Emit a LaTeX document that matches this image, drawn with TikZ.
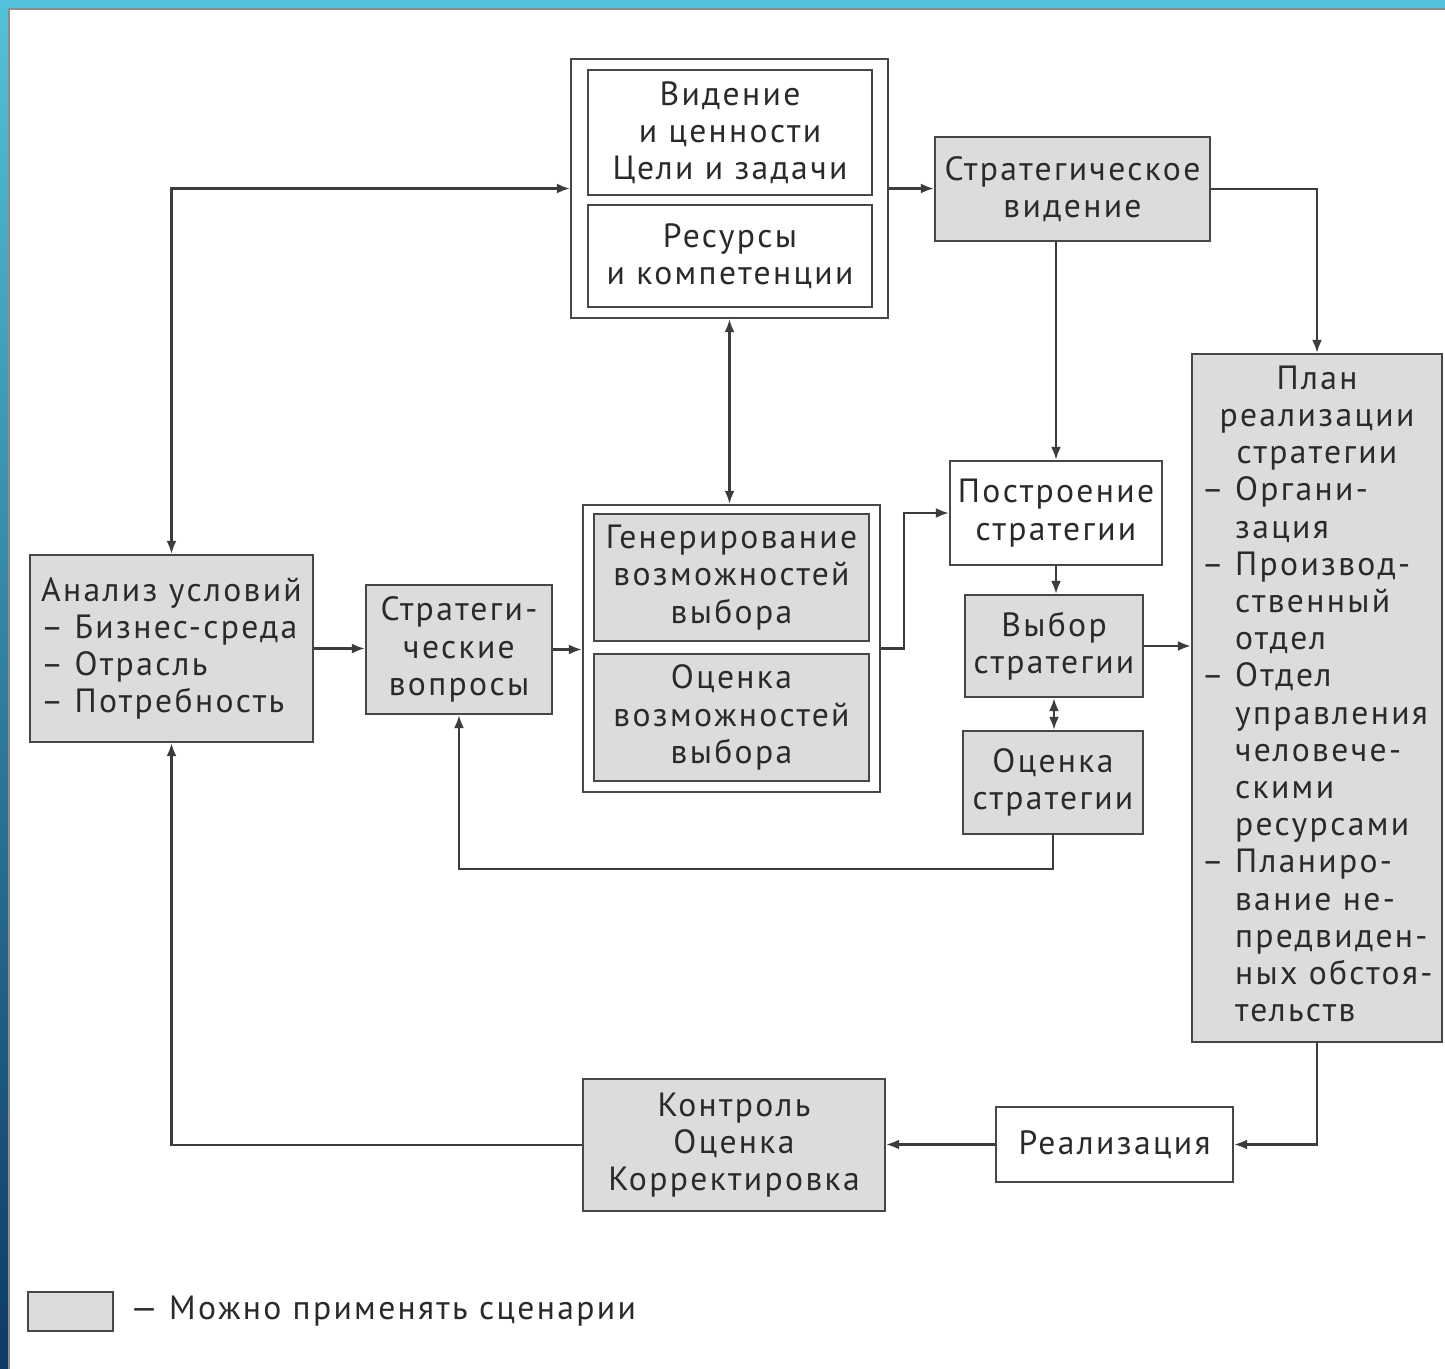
\documentclass[tikz,border=0pt]{standalone}
\usepackage{fontspec}
\setmainfont{PT Sans}[LetterSpace=7]
\usepackage{tikz}
\usetikzlibrary{arrows.meta, positioning, calc}
\definecolor{boxgray}{HTML}{DCDCDC}
\definecolor{edgegray}{HTML}{474747}
\definecolor{linegray}{HTML}{3C3C3C}
\definecolor{inkgray}{HTML}{2A2A2A}
\definecolor{framegray}{HTML}{8C8C8C}
\definecolor{bandcyan}{HTML}{52C2DA}
\definecolor{banddark}{HTML}{0E3A68}
\pgfdeclarelayer{background}
\pgfsetlayers{background,main}

\begin{document}
\begin{tikzpicture}[
    x=0.5pt, y=-0.5pt,
    base/.style={draw=edgegray, line width=1.2pt, inner sep=0pt,
      align=center, text=inkgray,
      font=\fontsize{16.8}{18.6}\selectfont},
    graybox/.style ={base, fill=boxgray},
    whitebox/.style={base, fill=white},
    holder/.style  ={draw=edgegray, line width=1.2pt, fill=white, inner sep=0pt},
    arrow/.style={-{Latex[length=6.5pt, width=5pt]},
      line width=1.1pt, color=linegray},
    biarrow/.style={{Latex[length=6.5pt, width=5pt]}-{Latex[length=6.5pt, width=5pt]},
      line width=1.1pt, color=linegray},
    legendtext/.style={text=inkgray, font=\fontsize{16.8}{18.6}\selectfont,
      inner sep=0pt, anchor=west},
]
\useasboundingbox (0,0) rectangle (1445,1369);
% Nodes
\node[holder, minimum width=317*0.5pt, minimum height=259*0.5pt] (vis) at (729.5,188.5) {};
\node[whitebox, minimum width=284*0.5pt, minimum height=125*0.5pt] (vision) at (730,132.5)
    {Видение\\и ценности\\Цели и задачи};
\node[whitebox, minimum width=284*0.5pt, minimum height=102*0.5pt] (resources) at (730,256)
    {Ресурсы\\и компетенции};
\node[graybox, minimum width=275*0.5pt, minimum height=104*0.5pt] (stratvis) at (1072.5,189)
    {Стратегическое\\видение};
\node[graybox, minimum width=250*0.5pt, minimum height=688*0.5pt] (plan) at (1317,698)
    {\begin{tabular}{@{}l@{}}
     \multicolumn{1}{@{}c@{}}{План}\\
     \multicolumn{1}{@{}c@{}}{реализации}\\
     \multicolumn{1}{@{}c@{}}{стратегии}\\
     – Органи-\\
     \hphantom{– }зация\\
     – Производ-\\
     \hphantom{– }ственный\\
     \hphantom{– }отдел\\
     – Отдел\\
     \hphantom{– }управления\\
     \hphantom{– }человече-\\
     \hphantom{– }скими\\
     \hphantom{– }ресурсами\\
     – Планиро-\\
     \hphantom{– }вание не-\\
     \hphantom{– }предвиден-\\
     \hphantom{– }ных обстоя-\\
     \hphantom{– }тельств
     \end{tabular}};
\node[graybox, align=left, minimum width=283*0.5pt, minimum height=187*0.5pt] (analiz) at (171.5,648.5)
    {Анализ условий\\– Бизнес-среда\\– Отрасль\\– Потребность};
\node[graybox, minimum width=186*0.5pt, minimum height=129*0.5pt] (questions) at (459,649.5)
    {Стратеги-\\ческие\\вопросы};
\node[holder, minimum width=297*0.5pt, minimum height=287*0.5pt] (options) at (731.5,648.5) {};
\node[graybox, minimum width=275*0.5pt, minimum height=127*0.5pt] (generate) at (731.5,577.5)
    {Генерирование\\возможностей\\выбора};
\node[graybox, minimum width=275*0.5pt, minimum height=127*0.5pt] (assess) at (731.5,717.5)
    {Оценка\\возможностей\\выбора};
\node[whitebox, minimum width=212*0.5pt, minimum height=104*0.5pt] (build) at (1056,513)
    {Построение\\стратегии};
\node[graybox, minimum width=178*0.5pt, minimum height=102*0.5pt] (choice) at (1054,646)
    {Выбор\\стратегии};
\node[graybox, minimum width=180*0.5pt, minimum height=103*0.5pt] (evaluate) at (1053,782.5)
    {Оценка\\стратегии};
\node[graybox, minimum width=302*0.5pt, minimum height=132*0.5pt] (control) at (734,1145)
    {Контроль\\Оценка\\Корректировка};
\node[whitebox, minimum width=237*0.5pt, minimum height=75*0.5pt] (realize) at (1114.5,1144.5)
    {Реализация};
\node[graybox, minimum width=85*0.5pt, minimum height=39*0.5pt] (legendbox) at (70.5,1311.5) {};
\node[legendtext] (legend) at (130,1311) {— Можно применять сценарии};
% Frame and arrows
\begin{pgfonlayer}{background}
\fill[white] (0,0) rectangle (1445,1369);
\fill[bandcyan] (0,0) rectangle (1445,8);
\shade[top color=bandcyan, bottom color=banddark] (0,0) rectangle (8,1369);
\draw[framegray, line width=1pt] (9,1369) -- (9,9) -- (1445,9);
\draw[biarrow] (analiz.north) |- (vis.west);
\draw[arrow] (vis.east) -- (stratvis.west |- vis.east);
\draw[arrow] (stratvis.east) -| (plan.north);
\draw[arrow] (stratvis.south -| build.north) -- (build.north);
\draw[biarrow] (vis.south) -- (vis.south |- options.north);
\draw[arrow] (analiz.east) -- (questions.west |- analiz.east);
\draw[arrow] (questions.east) -- (options.west |- questions.east);
\draw[arrow] (options.east) -- ++(23,0) |- (build.west);
\draw[arrow] (build.south) -- (build.south |- choice.north);
\draw[biarrow] (choice.south) -- (choice.south |- evaluate.north);
\draw[arrow] (choice.east) -- (plan.west |- choice.east);
\draw[arrow] (evaluate.south) -- ++(0,34) -| (questions.south);
\draw[arrow] (plan.south) |- (realize.east);
\draw[arrow] (realize.west) -- (control.east |- realize.west);
\draw[arrow] (control.west) -| (analiz.south);
\end{pgfonlayer}
\end{tikzpicture}
\end{document}
